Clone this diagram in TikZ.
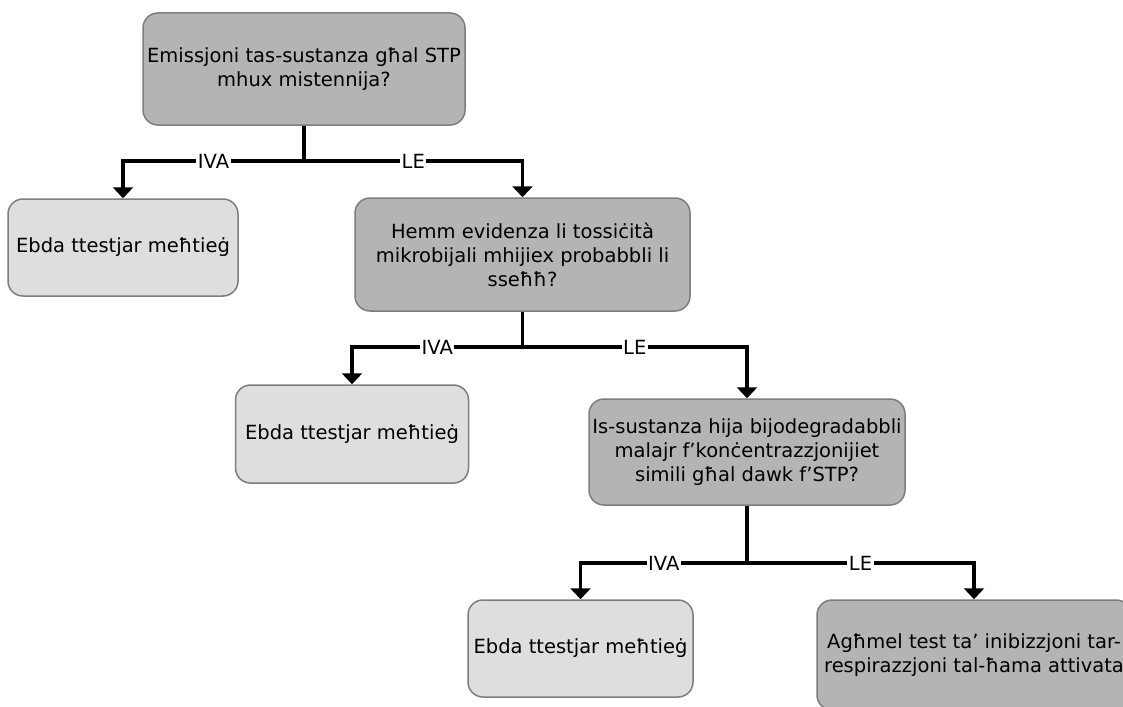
\documentclass[tikz,border=0pt]{standalone}
\usepackage{fontspec}
\setmainfont{DejaVu Sans}
\usetikzlibrary{arrows.meta,calc}
\definecolor{boxdark}{RGB}{180,180,180}
\definecolor{boxlight}{RGB}{222,222,222}
\definecolor{boxedge}{RGB}{125,125,125}
\begin{document}
\begin{tikzpicture}[x=1pt,y=-1pt,
  every node/.style={font=\fontsize{19.5}{24}\selectfont},
  basebox/.style={draw=boxedge,line width=1.5pt,rounded corners=15pt,align=center,inner sep=0pt,anchor=center},
  qbox/.style={basebox,fill=boxdark},
  endbox/.style={basebox,fill=boxlight},
  conn/.style={line width=3.3pt,black},
  arr/.style={conn,-{Triangle[width=20pt,length=11pt]}},
  lbl/.style={fill=white,inner sep=1.5pt,font=\fontsize{19.5}{20}\selectfont}]
\useasboundingbox (0,0) rectangle (1123,706);
\fill[white] (0,0) rectangle (1123,706);
\node[qbox,minimum width=322pt,minimum height=112pt] (q1) at (304,69)
  {Emissjoni tas-sustanza għal STP\\mhux mistennija?};
\node[endbox,minimum width=230pt,minimum height=97pt] (e1) at (123,247.5)
  {Ebda ttestjar meħtieġ};
\node[qbox,minimum width=335pt,minimum height=113pt] (q2) at (522.5,254.5)
  {Hemm evidenza li tossiċità\\mikrobijali mhijiex probabbli li\\sseħħ?};
\node[endbox,minimum width=233pt,minimum height=98pt] (e2) at (352,434)
  {Ebda ttestjar meħtieġ};
\node[qbox,minimum width=316pt,minimum height=106pt] (q3) at (747,452)
  {Is-sustanza hija bijodegradabbli\\malajr f’konċentrazzjonijiet\\simili għal dawk f’STP?};
\node[endbox,minimum width=225pt,minimum height=97pt] (e3) at (580.5,648.5)
  {Ebda ttestjar meħtieġ};
\node[qbox,minimum width=314pt,minimum height=110pt] (q4) at (974,655)
  {Agħmel test ta’ inibizzjoni tar-\\respirazzjoni tal-ħama attivata};
% row 1
\coordinate (j1) at (q1.south |- 0,161);
\draw[conn] (q1.south) -- (j1);
\draw[arr] (j1) -| node[lbl,pos=0.25]{IVA} (e1.north);
\draw[arr] (j1) -| node[lbl,pos=0.25]{LE} (q2.north);
% row 2
\coordinate (j2) at (q2.south |- 0,347);
\draw[conn] (q2.south) -- (j2);
\draw[arr] (j2) -| node[lbl,pos=0.25]{IVA} (e2.north);
\draw[arr] (j2) -| node[lbl,pos=0.25]{LE} (q3.north);
% row 3
\coordinate (j3) at (q3.south |- 0,563);
\draw[conn] (q3.south) -- (j3);
\draw[arr] (j3) -| node[lbl,pos=0.25]{IVA} (e3.north);
\draw[arr] (j3) -| node[lbl,pos=0.25]{LE} (q4.north);
\end{tikzpicture}
\end{document}
